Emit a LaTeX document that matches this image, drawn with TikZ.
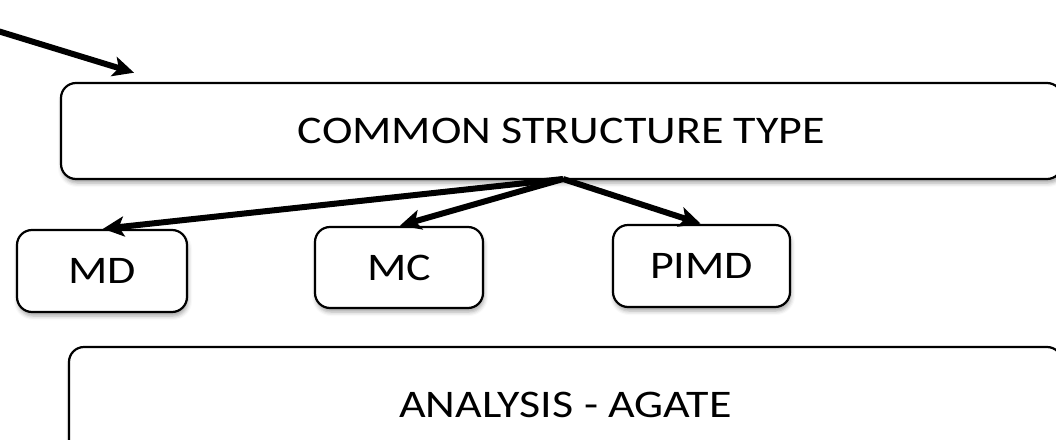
\documentclass[tikz,border=0pt]{standalone}
\usepackage{fontspec}
\setmainfont{Carlito}
\usetikzlibrary{arrows.meta,shadows.blur}
% labels are set a little flattened
\newcommand{\flatlabel}[1]{\scalebox{1}[0.85]{#1}}
\begin{document}
\begin{tikzpicture}[x=1pt,y=-1pt,
  box/.style={draw=black, line width=2.2pt, rounded corners=15pt, fill=white,
    inner sep=0pt, font=\fontsize{46}{50}\selectfont,
    blur shadow={shadow xshift=1pt, shadow yshift=-4pt, shadow blur radius=4pt, shadow opacity=35}},
  link/.style={line width=6pt, -{Stealth[length=21pt, width=20pt, inset=5pt]},
    shorten >=1pt}
]
\useasboundingbox (0,0) rectangle (1056,439);
\clip (0,0) rectangle (1056,439);

% main structure box and analysis box (run past the right edge)
\node[box, minimum width=1001pt, minimum height=96pt] (common) at (561.5,131) {\flatlabel{COMMON STRUCTURE TYPE}};
\node[box, minimum width=993pt, minimum height=116pt] (analysis) at (565.5,405) {\flatlabel{ANALYSIS - AGATE}};

% method boxes
\node[box, minimum width=170pt, minimum height=82pt] (md) at (102,271) {\flatlabel{MD}};
\node[box, minimum width=168pt, minimum height=81pt] (mc) at (399,267.5) {\flatlabel{MC}};
\node[box, minimum width=177pt, minimum height=82pt] (pimd) at (701.5,266) {\flatlabel{PIMD}};

% incoming arrow from the upper left
\coordinate (src) at (-12,28);
\coordinate (dst) at (135,73);
\draw[link] (src) -- (dst);

% branches to the methods
\coordinate (hub) at (563,179);
\draw[link] (hub) -- (md.north);
\draw[link] (hub) -- (mc.north);
\draw[link] (hub) -- (pimd.north);
\end{tikzpicture}
\end{document}
